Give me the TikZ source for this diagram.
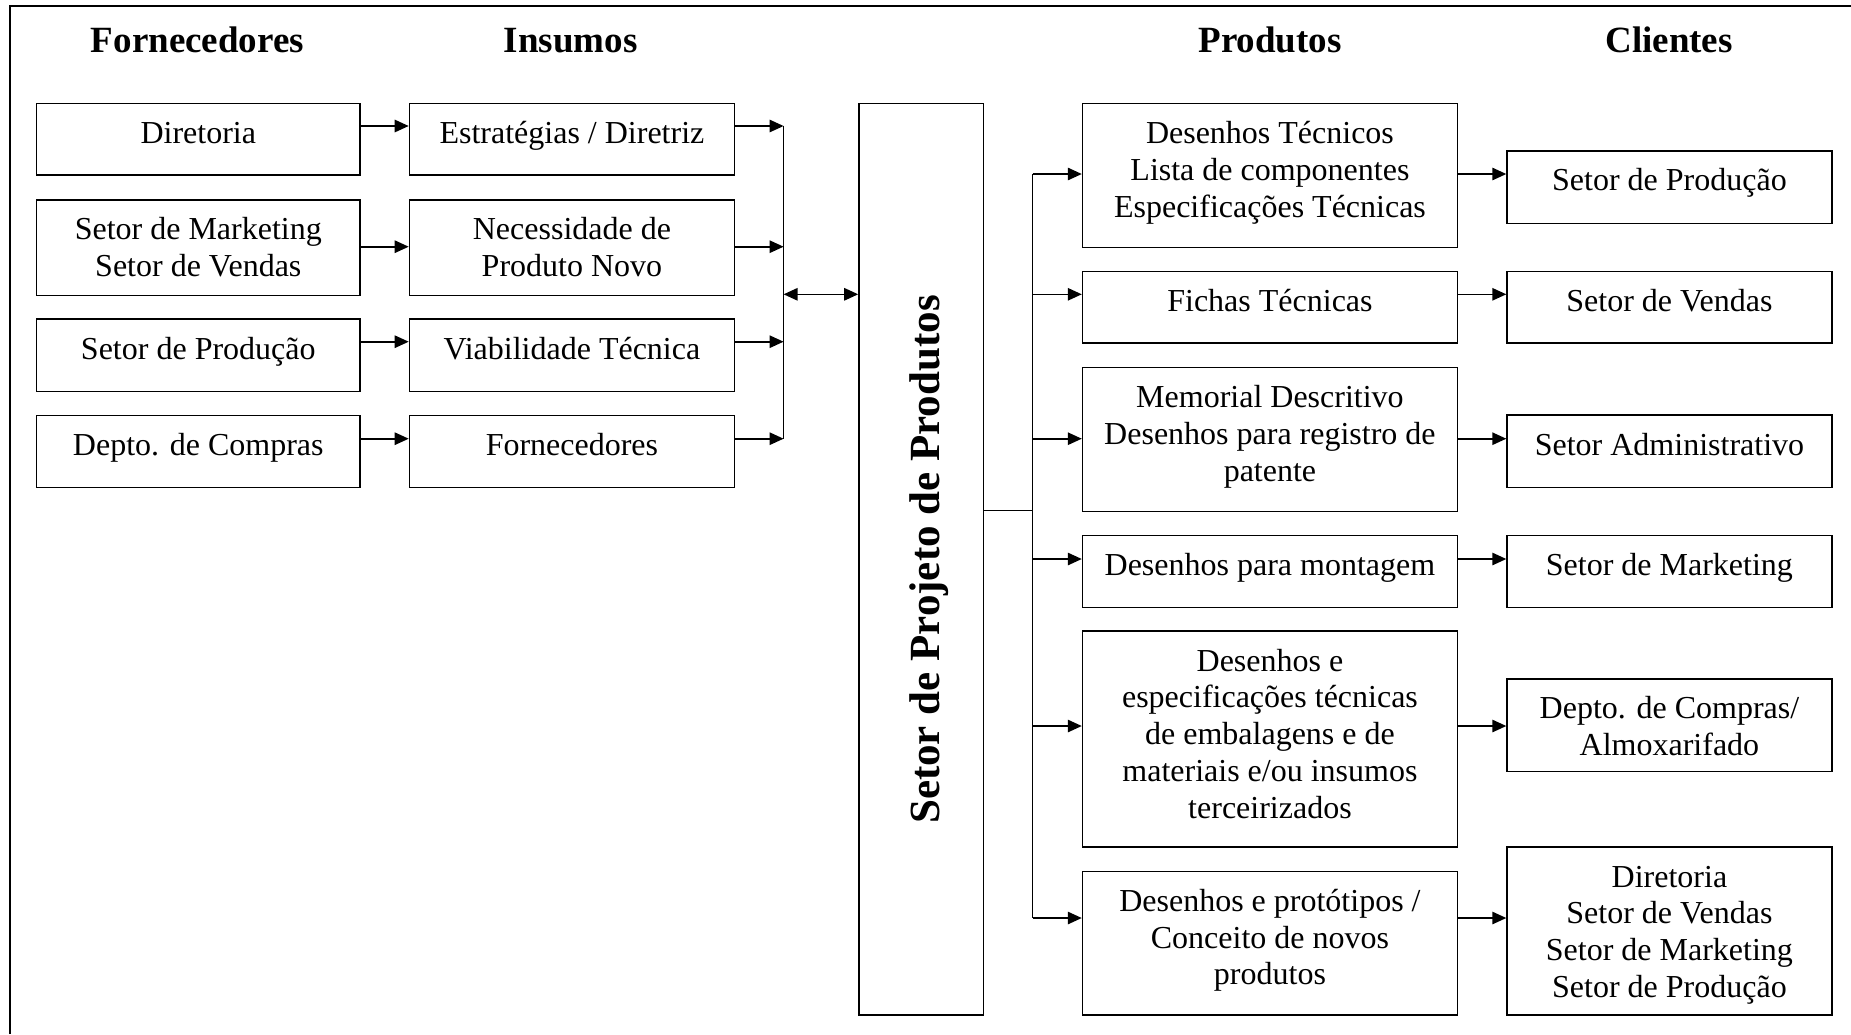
\documentclass[tikz,border=0pt]{standalone}
\usepackage{fontspec}
\setmainfont{Liberation Serif}
\usetikzlibrary{arrows.meta,calc}

\tikzset{
  boxst/.style={draw, line width=0.8pt, inner sep=0pt, anchor=north west},
  hdr/.style={font=\fontsize{18.5pt}{21pt}\selectfont\bfseries, anchor=base, inner sep=0pt},
  link/.style={line width=0.8pt},
  arr/.style={link, -{Triangle[length=7pt,width=6.2pt]}},
  darr/.style={link, {Triangle[length=7pt,width=6.2pt]}-{Triangle[length=7pt,width=6.2pt]}},
  vtitle/.style={font=\fontsize{21.5pt}{24pt}\selectfont\bfseries, rotate=90, anchor=base, inner sep=0pt},
}

% \bx{name}{x1}{y1}{x2}{y2}{text}: framed box, text top-aligned and centred
\newcommand\bx[6]{%
  \node[boxst] (#1) at (#2,#3)
    {\parbox[b][\dimexpr(#5pt-#3pt)/2\relax][t]{\dimexpr(#4pt-#2pt)/2\relax}%
      {\centering\fontsize{16pt}{18.4pt}\selectfont\rule{0pt}{20pt}#6\par}};}

\begin{document}
\begin{tikzpicture}[x=0.5pt,y=-0.5pt]
\useasboundingbox (0,0) rectangle (1851,1034);

% outer frame
\draw[line width=1pt] (10,1034) -- (10,6) -- (1851,6);

% column headings
\node[hdr] (hF) at (197.5,52) {Fornecedores};
\node[hdr] (hI) at (570.7,52) {Insumos};
\node[hdr] (hP) at (1270,52) {Produtos};
\node[hdr] (hC) at (1669,52) {Clientes};

% suppliers
\bx{f1}{35.6}{102.7}{359.4}{174.3}{Diretoria}
\bx{f2}{35.6}{199}{359.4}{294.7}{Setor de Marketing\\Setor de Vendas}
\bx{f3}{35.6}{318.3}{359.4}{390.7}{Setor de Produção}
\bx{f4}{35.6}{414.7}{359.4}{486.7}{Depto. de Compras}

% inputs
\bx{i1}{408.7}{102.7}{733.6}{174.3}{Estratégias / Diretriz}
\bx{i2}{408.7}{199}{733.6}{294.7}{Necessidade de\\Produto Novo}
\bx{i3}{408.7}{318.3}{733.6}{390.7}{Viabilidade Técnica}
\bx{i4}{408.7}{414.7}{733.6}{486.7}{Fornecedores}

% central department
\node[boxst, minimum width=62.3pt, minimum height=455.65pt] (ctr) at (858.2,102.7) {};
\node[vtitle] (ctxt) at (939,559.5) {Setor de Projeto de Produtos};

% products
\bx{p1}{1081.8}{102.7}{1456.5}{246.7}{Desenhos Técnicos\\Lista de componentes\\Especificações Técnicas}
\bx{p2}{1081.8}{270.7}{1456.5}{342.3}{Fichas Técnicas}
\bx{p3}{1081.8}{366.7}{1456.5}{510.7}{Memorial Descritivo\\Desenhos para registro de\\patente}
\bx{p4}{1081.8}{534.5}{1456.5}{606.6}{Desenhos para montagem}
\bx{p5}{1081.8}{630.3}{1456.5}{846.2}{Desenhos e\\especificações técnicas\\de embalagens e de\\materiais e/ou insumos\\terceirizados}
\bx{p6}{1081.8}{870.5}{1456.5}{1014}{Desenhos e protótipos /\\Conceito de novos\\produtos}

% clients
\bx{c1}{1506.3}{150}{1831}{222.7}{Setor de Produção}
\bx{c2}{1506.3}{270.7}{1831}{342.3}{Setor de Vendas}
\bx{c3}{1506.3}{414.3}{1831}{486.7}{Setor Administrativo}
\bx{c4}{1506.3}{534.5}{1831}{606.6}{Setor de Marketing}
\bx{c5}{1506.3}{678}{1831}{770.8}{Depto. de Compras/\\Almoxarifado}
\bx{c6}{1506.3}{846.2}{1831}{1014}{Diretoria\\Setor de Vendas\\Setor de Marketing\\Setor de Produção}

% connector levels, left side
\coordinate (ya) at (0,126);
\coordinate (yb) at (0,246.7);
\coordinate (yc) at (0,341.7);
\coordinate (yd) at (0,438.7);
\coordinate (bus) at (783.6,294.3);

\foreach \n/\y in {1/ya,2/yb,3/yc,4/yd}{
  \draw[arr] (f\n.east |- \y) -- (i\n.west |- \y);
  \draw[arr] (i\n.east |- \y) -- (bus |- \y);
}
\draw[link] (bus |- ya) -- (bus |- yd);
\draw[darr] (bus) -- (ctr.west |- bus);

% connector levels, right side
\coordinate (r1) at (0,174);
\coordinate (r2) at (0,294.3);
\coordinate (r3) at (0,438.7);
\coordinate (r4) at (0,559);
\coordinate (r5) at (0,726);
\coordinate (r6) at (0,918);
\coordinate (rbus) at (1032.6,510.5);

\draw[link] (ctr.east |- rbus) -- (rbus);
\draw[link] (rbus |- r1) -- (rbus |- r6);
\foreach \n in {1,...,6}{
  \draw[arr] (rbus |- r\n) -- (p\n.west |- r\n);
  \draw[arr] (p\n.east |- r\n) -- (c\n.west |- r\n);
}
\end{tikzpicture}
\end{document}
